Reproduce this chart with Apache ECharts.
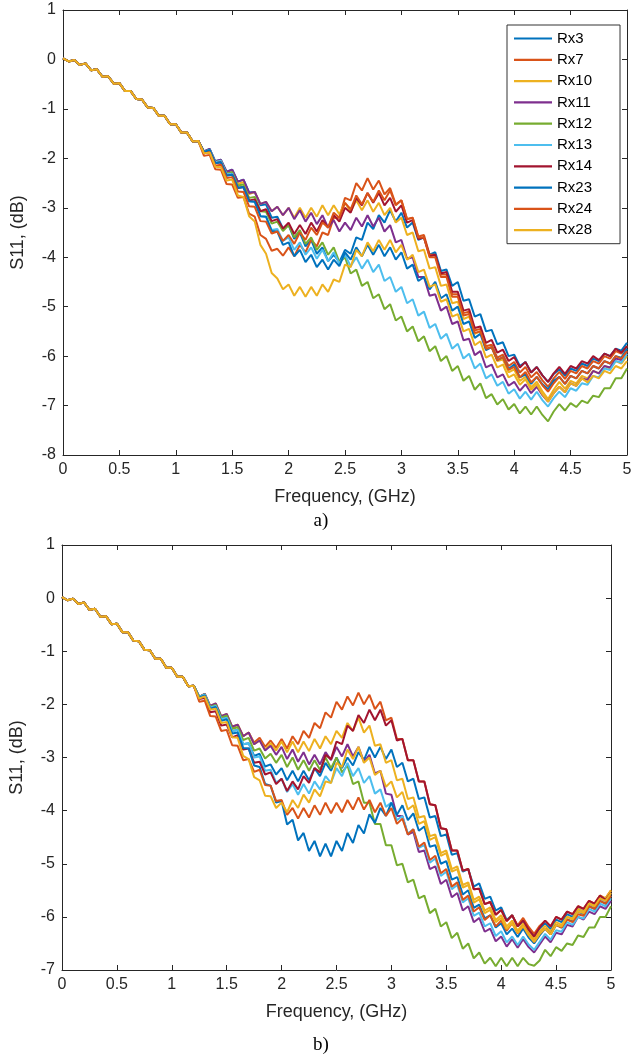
<!DOCTYPE html>
<html><head><meta charset="utf-8">
<script src="https://cdn.jsdelivr.net/npm/echarts@6/dist/echarts.min.js"></script>
<style>html,body{margin:0;padding:0;background:#fff}#c{width:642px;height:1061px}</style>
</head><body><div id="c"></div>
<script>
// Frequency grid (GHz)
const freq = [0,0.05,0.1,0.15,0.2,0.25,0.3,0.35,0.4,0.45,0.5,0.55,0.6,0.65,0.7,0.75,0.8,0.85,0.9,0.95,1,1.05,1.1,1.15,1.2,
1.25,1.3,1.35,1.4,1.45,1.5,1.55,1.6,1.65,1.7,1.75,1.8,1.85,1.9,1.95,2,2.05,2.1,2.15,2.2,2.25,2.3,2.35,2.4,2.45,2.5,2.55,2.6,2.65,2.7,2.75,2.8,2.85,2.9,2.95,
3,3.05,3.1,3.15,3.2,3.25,3.3,3.35,3.4,3.45,3.5,3.55,3.6,3.65,3.7,3.75,3.8,3.85,3.9,3.95,4,4.05,4.1,4.15,4.2,4.25,4.3,4.35,4.4,4.45,4.5,4.55,4.6,4.65,4.7,4.75,4.8,4.85,4.9,4.95,5];
// Common low-frequency part (0 - 1.2 GHz), same for all receivers
const head = [0.02,-0.04,-0.01,-0.11,-0.08,-0.22,-0.2,-0.35,-0.34,-0.49,-0.48,-0.64,-0.64,-0.8,-0.81,-0.97,-0.98,-1.14,-1.14,-1.31,-1.31,-1.48,-1.48,-1.66,-1.65];

const names = ['Rx3','Rx7','Rx10','Rx11','Rx12','Rx13','Rx14','Rx23','Rx24','Rx28'];
const colors = ['#0072BD','#D95319','#EDB120','#7E2F8E','#77AC30','#4DBEEE','#A2142F','#0072BD','#D95319','#EDB120'];

// ---- panel a) values from 1.25 GHz to 5 GHz ----
const a_Rx3 = [-1.86,-1.81,-2.06,-2.03,-2.27,-2.23,-2.47,-2.43,-2.69,-2.68,-2.95,-2.93,-3.2,-3.18,-3.42,
-3.35,-3.63,-3.5,-3.78,-3.65,-3.93,-3.8,-4.08,-3.95,-4.1,-3.85,-3.93,-3.6,-3.65,-3.3,-3.43,-3.15,-3.3,-3.05,-3.28,
-3.1,-3.4,-3.3,-3.65,-3.6,-3.95,-3.9,-4.28,-4.25,-4.58,-4.5,-4.88,-4.85,-5.2,-5.15,-5.5,-5.47,-5.76,-5.72,-6.0,
-5.97,-6.2,-6.12,-6.33,-6.22,-6.39,-6.52,-6.36,-6.27,-6.4,-6.25,-6.3,-6.15,-6.2,-6.05,-6.1,-5.95,-6.0,-5.85,-5.89,-5.73];
const a_Rx7 = [-1.95,-1.93,-2.22,-2.23,-2.52,-2.53,-2.8,-2.78,-3.12,-3.18,-3.55,-3.63,-3.87,-3.83,-3.97,
-3.8,-3.98,-3.75,-3.9,-3.65,-3.78,-3.5,-3.55,-3.2,-3.2,-2.8,-2.85,-2.5,-2.65,-2.4,-2.63,-2.45,-2.73,-2.6,-2.93,
-2.85,-3.23,-3.2,-3.58,-3.55,-3.95,-3.95,-4.35,-4.35,-4.75,-4.75,-5.13,-5.1,-5.48,-5.45,-5.8,-5.77,-6.03,-5.97,-6.2,
-6.12,-6.33,-6.22,-6.43,-6.32,-6.49,-6.62,-6.45,-6.32,-6.46,-6.3,-6.35,-6.2,-6.25,-6.1,-6.15,-6.0,-6.05,-5.9,-5.95,-5.8];
const a_Rx10 = [-1.87,-1.83,-2.08,-2.05,-2.31,-2.28,-2.52,-2.48,-2.72,-2.68,-2.92,-2.88,-3.07,-2.98,-3.15,
-3.0,-3.2,-3.0,-3.2,-3.0,-3.18,-2.95,-3.15,-2.95,-3.13,-2.9,-3.08,-2.85,-3.05,-2.85,-3.08,-2.9,-3.15,-3.0,-3.3,
-3.2,-3.55,-3.5,-3.88,-3.85,-4.23,-4.2,-4.58,-4.55,-4.93,-4.9,-5.25,-5.2,-5.55,-5.5,-5.85,-5.82,-6.1,-6.07,-6.33,
-6.27,-6.5,-6.42,-6.63,-6.52,-6.71,-6.87,-6.68,-6.52,-6.66,-6.5,-6.55,-6.4,-6.45,-6.3,-6.35,-6.2,-6.25,-6.1,-6.15,-6.0];
const a_Rx11 = [-1.86,-1.81,-2.06,-2.03,-2.27,-2.23,-2.47,-2.43,-2.7,-2.68,-2.92,-2.88,-3.07,-2.98,-3.15,
-3.0,-3.23,-3.05,-3.28,-3.1,-3.33,-3.15,-3.4,-3.25,-3.48,-3.3,-3.45,-3.2,-3.38,-3.15,-3.38,-3.2,-3.48,-3.35,-3.7,
-3.65,-4.03,-4.0,-4.4,-4.4,-4.78,-4.75,-5.08,-5.0,-5.35,-5.3,-5.68,-5.65,-5.98,-5.9,-6.23,-6.17,-6.43,-6.37,-6.6,
-6.52,-6.7,-6.57,-6.75,-6.62,-6.79,-6.92,-6.75,-6.62,-6.73,-6.55,-6.6,-6.45,-6.48,-6.3,-6.35,-6.2,-6.23,-6.05,-6.08,-5.9];
const a_Rx12 = [-1.87,-1.83,-2.08,-2.05,-2.31,-2.28,-2.55,-2.53,-2.8,-2.78,-3.07,-3.08,-3.32,-3.28,-3.47,
-3.35,-3.6,-3.45,-3.73,-3.6,-3.85,-3.7,-3.95,-3.8,-4.1,-4.0,-4.33,-4.25,-4.58,-4.5,-4.83,-4.75,-5.05,-4.95,-5.28,
-5.2,-5.5,-5.4,-5.7,-5.6,-5.9,-5.8,-6.1,-6.0,-6.3,-6.2,-6.5,-6.4,-6.68,-6.55,-6.85,-6.77,-6.98,-6.87,-7.08,
-6.97,-7.16,-7.02,-7.18,-7.02,-7.19,-7.32,-7.12,-6.97,-7.1,-6.95,-7.03,-6.9,-6.95,-6.8,-6.83,-6.65,-6.65,-6.45,-6.45,-6.25];
const a_Rx13 = [-1.87,-1.83,-2.08,-2.05,-2.32,-2.31,-2.59,-2.58,-2.87,-2.88,-3.17,-3.18,-3.45,-3.43,-3.67,
-3.6,-3.85,-3.7,-3.95,-3.8,-4.03,-3.85,-4.08,-3.9,-4.13,-3.95,-4.18,-4.0,-4.23,-4.05,-4.3,-4.15,-4.48,-4.4,-4.7,
-4.6,-4.93,-4.85,-5.18,-5.1,-5.43,-5.35,-5.65,-5.55,-5.85,-5.75,-6.05,-5.95,-6.25,-6.15,-6.45,-6.37,-6.6,-6.52,-6.76,
-6.67,-6.86,-6.72,-6.88,-6.72,-6.89,-7.02,-6.85,-6.72,-6.83,-6.65,-6.7,-6.55,-6.58,-6.4,-6.43,-6.25,-6.28,-6.1,-6.13,-5.95];
const a_Rx14 = [-1.88,-1.85,-2.1,-2.08,-2.35,-2.33,-2.6,-2.58,-2.85,-2.83,-3.07,-3.03,-3.27,-3.23,-3.42,
-3.3,-3.53,-3.35,-3.53,-3.3,-3.48,-3.25,-3.4,-3.15,-3.28,-3.0,-3.1,-2.8,-2.95,-2.7,-2.9,-2.7,-2.95,-2.8,-3.08,
-2.95,-3.3,-3.25,-3.63,-3.6,-3.98,-3.95,-4.33,-4.3,-4.7,-4.7,-5.08,-5.05,-5.43,-5.4,-5.73,-5.67,-5.93,-5.87,-6.1,
-6.02,-6.23,-6.12,-6.33,-6.22,-6.39,-6.52,-6.35,-6.22,-6.36,-6.2,-6.25,-6.1,-6.15,-6.0,-6.08,-5.95,-6.0,-5.85,-5.93,-5.8];
const a_Rx23 = [-1.87,-1.83,-2.1,-2.08,-2.35,-2.33,-2.6,-2.58,-2.87,-2.88,-3.17,-3.18,-3.47,-3.48,-3.75,
-3.7,-3.98,-3.85,-4.1,-3.95,-4.2,-4.05,-4.25,-4.05,-4.18,-3.9,-4.05,-3.8,-3.98,-3.75,-3.95,-3.75,-3.98,-3.8,-4.05,
-3.9,-4.23,-4.15,-4.48,-4.4,-4.65,-4.5,-4.83,-4.75,-5.08,-5.0,-5.35,-5.3,-5.63,-5.55,-5.88,-5.82,-6.08,-6.02,-6.26,
-6.17,-6.43,-6.37,-6.56,-6.42,-6.57,-6.67,-6.5,-6.42,-6.56,-6.4,-6.45,-6.3,-6.35,-6.2,-6.25,-6.1,-6.15,-6.0,-6.03,-5.85];
const a_Rx24 = [-1.9,-1.88,-2.15,-2.13,-2.4,-2.38,-2.67,-2.68,-2.97,-2.98,-3.27,-3.28,-3.52,-3.48,-3.67,
-3.55,-3.73,-3.5,-3.65,-3.4,-3.55,-3.3,-3.4,-3.1,-3.2,-2.9,-3.03,-2.75,-2.93,-2.7,-2.88,-2.65,-2.85,-2.65,-2.95,
-2.85,-3.23,-3.2,-3.6,-3.6,-4.0,-4.0,-4.4,-4.4,-4.8,-4.8,-5.18,-5.15,-5.53,-5.5,-5.85,-5.82,-6.08,-6.02,-6.28,
-6.22,-6.43,-6.32,-6.53,-6.42,-6.59,-6.72,-6.55,-6.42,-6.56,-6.4,-6.45,-6.3,-6.35,-6.2,-6.25,-6.1,-6.15,-6.0,-6.05,-5.9];
const a_Rx28 = [-1.9,-1.88,-2.17,-2.18,-2.45,-2.43,-2.75,-2.78,-3.17,-3.28,-3.75,-3.93,-4.32,-4.43,-4.65,
-4.55,-4.78,-4.6,-4.8,-4.6,-4.78,-4.55,-4.7,-4.45,-4.5,-4.15,-4.2,-3.85,-3.98,-3.7,-3.88,-3.65,-3.85,-3.65,-3.9,
-3.75,-4.05,-3.95,-4.3,-4.25,-4.6,-4.55,-4.9,-4.85,-5.2,-5.15,-5.5,-5.45,-5.78,-5.7,-6.03,-5.97,-6.23,-6.17,-6.43,
-6.37,-6.58,-6.47,-6.68,-6.57,-6.77,-6.92,-6.75,-6.62,-6.73,-6.55,-6.6,-6.45,-6.53,-6.4,-6.45,-6.3,-6.35,-6.2,-6.25,-6.1];

// ---- panel b) values from 1.25 GHz to 5 GHz ----
const b_Rx3 = [-1.86,-1.81,-2.06,-2.03,-2.27,-2.23,-2.5,-2.48,-2.75,-2.73,-2.97,-2.93,-3.17,-3.13,-3.32,
-3.2,-3.43,-3.25,-3.45,-3.25,-3.43,-3.2,-3.35,-3.1,-3.25,-3.0,-3.2,-3.0,-3.15,-2.9,-3.05,-2.8,-3.0,-2.8,-3.03,
-2.85,-3.18,-3.1,-3.45,-3.4,-3.78,-3.75,-4.13,-4.1,-4.48,-4.45,-4.83,-4.8,-5.15,-5.1,-5.43,-5.37,-5.66,-5.62,-5.88,
-5.82,-6.06,-5.97,-6.18,-6.07,-6.24,-6.37,-6.22,-6.12,-6.23,-6.05,-6.1,-5.95,-6.0,-5.85,-5.9,-5.75,-5.8,-5.65,-5.7,-5.55];
const b_Rx7 = [-1.86,-1.81,-2.05,-2.01,-2.25,-2.21,-2.44,-2.38,-2.6,-2.53,-2.72,-2.63,-2.8,-2.68,-2.82,
-2.65,-2.83,-2.6,-2.75,-2.5,-2.63,-2.35,-2.45,-2.15,-2.25,-1.95,-2.1,-1.85,-2.02,-1.78,-2.0,-1.82,-2.09,-1.95,-2.3,
-2.25,-2.65,-2.65,-3.05,-3.05,-3.45,-3.45,-3.88,-3.9,-4.33,-4.35,-4.75,-4.75,-5.13,-5.1,-5.48,-5.47,-5.76,-5.72,-5.96,
-5.87,-6.08,-5.97,-6.16,-6.02,-6.19,-6.32,-6.17,-6.07,-6.18,-6.0,-6.05,-5.9,-5.95,-5.8,-5.85,-5.7,-5.75,-5.6,-5.65,-5.5];
const b_Rx10 = [-1.86,-1.8,-2.03,-1.98,-2.22,-2.18,-2.42,-2.38,-2.6,-2.53,-2.75,-2.68,-2.85,-2.73,-2.87,
-2.7,-2.9,-2.7,-2.9,-2.7,-2.88,-2.65,-2.83,-2.6,-2.75,-2.5,-2.63,-2.35,-2.5,-2.25,-2.53,-2.4,-2.78,-2.75,-3.1,
-3.05,-3.43,-3.4,-3.78,-3.75,-4.13,-4.1,-4.48,-4.45,-4.8,-4.75,-5.1,-5.05,-5.4,-5.35,-5.68,-5.62,-5.88,-5.82,-6.06,
-5.97,-6.18,-6.07,-6.26,-6.12,-6.29,-6.42,-6.27,-6.17,-6.28,-6.1,-6.15,-6.0,-6.03,-5.85,-5.9,-5.75,-5.78,-5.6,-5.65,-5.5];
const b_Rx11 = [-1.86,-1.8,-2.03,-1.98,-2.22,-2.18,-2.42,-2.38,-2.6,-2.53,-2.75,-2.68,-2.87,-2.78,-2.95,
-2.8,-3.03,-2.85,-3.08,-2.9,-3.13,-2.95,-3.13,-2.9,-3.05,-2.8,-2.98,-2.75,-2.98,-2.8,-3.08,-2.95,-3.3,-3.25,-3.68,
-3.7,-4.1,-4.1,-4.45,-4.4,-4.78,-4.75,-5.1,-5.05,-5.38,-5.3,-5.63,-5.55,-5.88,-5.8,-6.1,-6.02,-6.28,-6.22,-6.46,
-6.37,-6.56,-6.42,-6.58,-6.42,-6.57,-6.67,-6.52,-6.37,-6.48,-6.3,-6.33,-6.15,-6.18,-6.0,-6.05,-5.9,-5.95,-5.8,-5.85,-5.7];
const b_Rx12 = [-1.86,-1.81,-2.05,-2.01,-2.25,-2.21,-2.46,-2.43,-2.67,-2.63,-2.87,-2.83,-3.02,-2.93,-3.1,
-2.95,-3.18,-3.0,-3.23,-3.05,-3.25,-3.05,-3.23,-3.0,-3.2,-3.0,-3.28,-3.15,-3.5,-3.45,-3.85,-3.85,-4.25,-4.25,-4.65,
-4.65,-5.03,-5.0,-5.35,-5.3,-5.65,-5.6,-5.93,-5.85,-6.18,-6.1,-6.4,-6.3,-6.6,-6.5,-6.78,-6.67,-6.88,-6.77,-6.93,
-6.77,-6.93,-6.77,-6.93,-6.77,-6.89,-6.92,-6.82,-6.62,-6.74,-6.57,-6.64,-6.5,-6.53,-6.35,-6.38,-6.2,-6.2,-6.0,-6.0,-5.8];
const b_Rx13 = [-1.86,-1.81,-2.06,-2.03,-2.28,-2.25,-2.51,-2.48,-2.75,-2.73,-3.0,-2.98,-3.25,-3.23,-3.47,
-3.4,-3.65,-3.5,-3.7,-3.5,-3.68,-3.45,-3.6,-3.35,-3.48,-3.2,-3.35,-3.1,-3.35,-3.2,-3.48,-3.35,-3.68,-3.6,-3.93,
-3.85,-4.18,-4.1,-4.43,-4.35,-4.7,-4.65,-4.98,-4.9,-5.23,-5.15,-5.48,-5.4,-5.73,-5.65,-5.98,-5.92,-6.18,-6.12,-6.36,
-6.27,-6.48,-6.37,-6.53,-6.37,-6.52,-6.62,-6.47,-6.32,-6.43,-6.25,-6.28,-6.1,-6.15,-6.0,-6.03,-5.85,-5.9,-5.75,-5.8,-5.65];
const b_Rx14 = [-1.9,-1.88,-2.15,-2.13,-2.4,-2.38,-2.62,-2.58,-2.85,-2.83,-3.1,-3.08,-3.32,-3.28,-3.5,
-3.4,-3.63,-3.45,-3.6,-3.35,-3.48,-3.2,-3.28,-2.95,-3.03,-2.7,-2.75,-2.4,-2.5,-2.2,-2.35,-2.1,-2.3,-2.1,-2.4,
-2.3,-2.68,-2.65,-3.05,-3.05,-3.45,-3.45,-3.88,-3.9,-4.33,-4.35,-4.75,-4.75,-5.13,-5.1,-5.48,-5.47,-5.76,-5.72,-5.96,
-5.87,-6.08,-5.97,-6.18,-6.07,-6.24,-6.37,-6.2,-6.07,-6.18,-6.0,-6.05,-5.9,-5.95,-5.8,-5.85,-5.7,-5.75,-5.6,-5.68,-5.55];
const b_Rx23 = [-1.87,-1.83,-2.08,-2.05,-2.31,-2.28,-2.55,-2.53,-2.82,-2.83,-3.15,-3.18,-3.5,-3.53,-3.85,
-3.82,-4.26,-4.17,-4.56,-4.42,-4.76,-4.57,-4.86,-4.62,-4.86,-4.57,-4.76,-4.42,-4.61,-4.27,-4.43,-4.07,-4.23,-3.95,-4.1,
-3.85,-4.08,-3.9,-4.18,-4.05,-4.38,-4.3,-4.68,-4.65,-5.0,-4.95,-5.3,-5.25,-5.58,-5.5,-5.83,-5.77,-6.03,-5.97,-6.2,
-6.12,-6.33,-6.22,-6.38,-6.22,-6.39,-6.5,-6.35,-6.22,-6.33,-6.15,-6.2,-6.05,-6.08,-5.9,-5.95,-5.8,-5.85,-5.7,-5.75,-5.6];
const b_Rx24 = [-1.95,-1.93,-2.22,-2.23,-2.5,-2.48,-2.77,-2.78,-3.05,-3.03,-3.27,-3.23,-3.52,-3.53,-3.82,
-3.8,-4.08,-3.95,-4.15,-3.95,-4.13,-3.9,-4.08,-3.85,-4.05,-3.85,-4.03,-3.8,-3.98,-3.75,-3.98,-3.8,-4.03,-3.85,-4.1,
-3.95,-4.25,-4.15,-4.45,-4.35,-4.68,-4.6,-4.93,-4.85,-5.18,-5.1,-5.43,-5.35,-5.68,-5.6,-5.9,-5.82,-6.06,-5.97,-6.18,
-6.07,-6.26,-6.12,-6.31,-6.17,-6.34,-6.47,-6.32,-6.22,-6.33,-6.15,-6.2,-6.05,-6.1,-5.95,-5.98,-5.8,-5.85,-5.7,-5.75,-5.6];
const b_Rx28 = [-1.89,-1.85,-2.1,-2.08,-2.35,-2.33,-2.62,-2.63,-2.97,-3.03,-3.37,-3.43,-3.72,-3.73,-3.95,
-3.85,-4.03,-3.8,-3.95,-3.7,-3.85,-3.6,-3.73,-3.45,-3.48,-3.1,-3.18,-2.85,-3.03,-2.8,-3.1,-3.0,-3.33,-3.25,-3.55,
-3.45,-3.75,-3.65,-3.98,-3.9,-4.25,-4.2,-4.55,-4.5,-4.85,-4.8,-5.15,-5.1,-5.45,-5.4,-5.73,-5.67,-5.93,-5.87,-6.1,
-6.02,-6.23,-6.12,-6.3,-6.17,-6.34,-6.47,-6.32,-6.22,-6.33,-6.15,-6.18,-6.0,-6.05,-5.9,-5.93,-5.75,-5.8,-5.65,-5.7,-5.55];

const tailsA = [a_Rx3,a_Rx7,a_Rx10,a_Rx11,a_Rx12,a_Rx13,a_Rx14,a_Rx23,a_Rx24,a_Rx28];
const tailsB = [b_Rx3,b_Rx7,b_Rx10,b_Rx11,b_Rx12,b_Rx13,b_Rx14,b_Rx23,b_Rx24,b_Rx28];

function pts(tail){
  const ys = head.concat(tail);
  const n = Math.min(ys.length, freq.length);
  const out = [];
  for (let i = 0; i < n; i++) out.push([freq[i], ys[i]]);
  return out;
}

const FONT = 'Liberation Sans';
const AX = '#262626';
function xAx(grid, pos, showLabel){
  return {
    gridIndex: grid, type: 'value', position: pos, min: 0, max: 5, interval: 0.5,
    axisLine: {show: true, onZero: false, lineStyle: {color: AX, width: 1}},
    axisTick: {show: true, inside: true, length: 5, lineStyle: {color: AX}},
    axisLabel: {show: showLabel, color: AX, fontFamily: FONT, fontSize: 16, margin: 7},
    splitLine: {show: false},
    name: showLabel ? 'Frequency, (GHz)' : '', nameLocation: 'middle', nameGap: 33,
    nameTextStyle: {color: AX, fontFamily: FONT, fontSize: 18}
  };
}
function yAx(grid, pos, min, showLabel){
  return {
    gridIndex: grid, type: 'value', position: pos, min: min, max: 1, interval: 1,
    axisLine: {show: true, onZero: false, lineStyle: {color: AX, width: 1}},
    axisTick: {show: true, inside: true, length: 5, lineStyle: {color: AX}},
    axisLabel: {show: showLabel, color: AX, fontFamily: FONT, fontSize: 16, margin: 7},
    splitLine: {show: false},
    name: showLabel ? 'S11, (dB)' : '', nameLocation: 'middle', nameGap: 36,
    nameTextStyle: {color: AX, fontFamily: FONT, fontSize: 18}
  };
}

const series = [];
names.forEach((nm, i) => {
  series.push({name: nm, type: 'line', xAxisIndex: 0, yAxisIndex: 0, data: pts(tailsA[i]),
    showSymbol: false, symbol: 'none', lineStyle: {color: colors[i], width: 2}, itemStyle: {color: colors[i]}, z: 2 + i});
});
names.forEach((nm, i) => {
  series.push({name: nm, type: 'line', xAxisIndex: 2, yAxisIndex: 2, data: pts(tailsB[i]),
    showSymbol: false, symbol: 'none', lineStyle: {color: colors[i], width: 2}, itemStyle: {color: colors[i]}, z: 2 + i});
});

const chart = echarts.init(document.getElementById('c'), null, {renderer: 'canvas'});
chart.setOption({
  animation: false,
  backgroundColor: '#fff',
  color: colors,
  grid: [
    {left: 63, top: 10, width: 564, height: 445, containLabel: false},
    {left: 61, top: 545, width: 550, height: 425, containLabel: false}
  ],
  xAxis: [xAx(0, 'bottom', true), xAx(0, 'top', false), xAx(1, 'bottom', true), xAx(1, 'top', false)],
  yAxis: [yAx(0, 'left', -8, true), yAx(0, 'right', -8, false), yAx(1, 'left', -7, true), yAx(1, 'right', -7, false)],
  legend: {
    data: names.map(n => ({name: n, icon: 'rect'})), orient: 'vertical', left: 507, top: 25,
    padding: [6, 28, 6, 7], itemGap: 6.3, itemWidth: 38, itemHeight: 2.2,
    backgroundColor: '#fff', borderColor: '#333', borderWidth: 1,
    textStyle: {color: '#000', fontFamily: FONT, fontSize: 15, lineHeight: 14}
  },
  graphic: [
    {type: 'text', left: 'center', top: 512, style: {text: 'a)', font: '19px "Liberation Serif"', fill: '#000'}},
    {type: 'text', left: 'center', top: 1036, style: {text: 'b)', font: '19px "Liberation Serif"', fill: '#000'}}
  ],
  series: series
});
</script>
</body></html>
